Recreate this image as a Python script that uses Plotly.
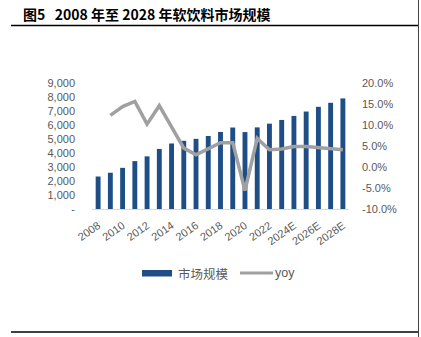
import plotly.graph_objects as go

years = ["2008", "2009", "2010", "2011", "2012", "2013", "2014", "2015", "2016", "2017",
         "2018", "2019", "2020", "2021", "2022", "2023", "2024E", "2025E", "2026E",
         "2027E", "2028E"]
market_size = [2320, 2590, 2940, 3420, 3760, 4290, 4680, 4870, 5010, 5215,
               5505, 5820, 5495, 5830, 6096, 6361, 6649, 6962, 7298, 7587, 7899]
yoy = [None, 12.3, 14.4, 15.6, 10.2, 14.6, 9.4, 4.5, 2.9, 4.4,
       5.8, 5.8, -5.6, 6.8, 4.1, 4.3, 4.9, 4.9, 4.6, 4.3, 4.1]

left_ticks = [0, 1000, 2000, 3000, 4000, 5000, 6000, 7000, 8000, 9000]
left_text = ["-", "1,000", "2,000", "3,000", "4,000", "5,000", "6,000", "7,000", "8,000", "9,000"]
right_ticks = [-10, -5, 0, 5, 10, 15, 20]
right_text = ["-10.0%", "-5.0%", "0.0%", "5.0%", "10.0%", "15.0%", "20.0%"]
x_ticks = years[::2]

title = "图5   2008 年至 2028 年软饮料市场规模"
legend_bar = "市场规模"
legend_line = "yoy"
source = "资料来源："

W, H = 421, 337
L, R, T, B = 92, 349, 83, 209

BAR_COLOR = "#1F4E87"
LINE_COLOR = "#A0A0A0"
TXT = "#595959"
FONT = "Liberation Sans, Noto Sans CJK SC, sans-serif"


def px(x):
    return (x - L) / (R - L)


def py(y):
    return (B - y) / (B - T)


fig = go.Figure()
fig.add_trace(go.Bar(x=years, y=market_size, marker=dict(color=BAR_COLOR, line=dict(width=0)),
                     name=legend_bar, showlegend=False))
fig.add_trace(go.Scatter(x=years, y=yoy, mode="lines", yaxis="y2",
                         line=dict(color=LINE_COLOR, width=3.5), name=legend_line,
                         showlegend=False, connectgaps=False))

shapes = [
    dict(type="line", xref="paper", yref="paper", x0=px(11), x1=px(419), y0=py(25.5), y1=py(25.5),
         line=dict(color="#000000", width=1.3)),
    dict(type="line", xref="paper", yref="paper", x0=px(11), x1=px(419), y0=py(332), y1=py(332),
         line=dict(color="#000000", width=1.3)),
    dict(type="line", xref="paper", yref="paper", x0=px(418.5), x1=px(418.5), y0=py(0), y1=py(337),
         line=dict(color="#444444", width=1)),
    dict(type="rect", xref="paper", yref="paper", x0=px(142), x1=px(172), y0=py(270), y1=py(276.5),
         fillcolor=BAR_COLOR, line=dict(width=0)),
    dict(type="line", xref="paper", yref="paper", x0=px(240), x1=px(273), y0=py(273), y1=py(273),
         line=dict(color=LINE_COLOR, width=3)),
]

annotations = [
    dict(text=title, xref="paper", yref="paper", x=px(21), y=py(14.5), xanchor="left", yanchor="middle",
         showarrow=False, font=dict(family="Noto Sans CJK SC", size=14, color="#000000", weight="bold")),
    dict(text=legend_bar, xref="paper", yref="paper", x=px(176), y=py(273), xanchor="left", yanchor="middle",
         showarrow=False, font=dict(family="Noto Sans CJK SC", size=12.5, color=TXT)),
    dict(text=legend_line, xref="paper", yref="paper", x=px(273), y=py(273), xanchor="left", yanchor="middle",
         showarrow=False, font=dict(family=FONT, size=12.5, color=TXT)),
    dict(text=source, xref="paper", yref="paper", x=px(20), y=py(332), xanchor="left", yanchor="top",
         showarrow=False, font=dict(family="Noto Sans CJK SC", size=10, color="#000000")),
]

fig.update_layout(
    width=W, height=H,
    margin=dict(l=L, r=W - R, t=T, b=H - B, pad=0),
    paper_bgcolor="white", plot_bgcolor="white",
    bargap=0.6,
    font=dict(family=FONT, size=11, color=TXT),
    xaxis=dict(type="category", tickmode="array", tickvals=x_ticks, ticktext=x_ticks,
               tickangle=-35, showline=True, linecolor="#D9D9D9", linewidth=1,
               ticks="", showgrid=False, ticklabelstandoff=5, tickfont=dict(size=11, color=TXT)),
    yaxis=dict(range=[0, 9000], tickmode="array", tickvals=left_ticks, ticktext=left_text,
               showgrid=False, zeroline=False, ticks="", ticklabelstandoff=16,
               tickfont=dict(size=11, color=TXT)),
    yaxis2=dict(range=[-10, 20], overlaying="y", side="right", tickmode="array",
                tickvals=right_ticks, ticktext=right_text, showgrid=False, zeroline=False,
                ticks="", ticklabelstandoff=12, tickfont=dict(size=11, color=TXT)),
    shapes=shapes,
    annotations=annotations,
    showlegend=False,
)

fig.write_html("out.html")
